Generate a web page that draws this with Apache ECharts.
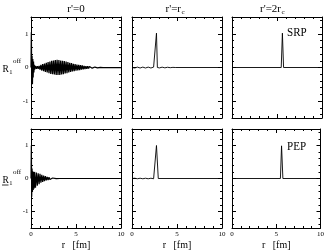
<!DOCTYPE html>
<html><head><meta charset="utf-8">
<script src="https://cdn.jsdelivr.net/npm/echarts@6/dist/echarts.min.js"></script>
<style>html,body{margin:0;padding:0;background:#fff}#c{width:327px;height:251px}</style>
</head><body><div id="c"></div>
<script>
// ---- data ----
const xTickValues = [0, 5, 10];
const yTickValues = [-1, 0, 1];
const yMinorValues = [-1.4, -1.2, -0.8, -0.6, -0.4, -0.2, 0.2, 0.4, 0.6, 0.8, 1.2, 1.4];
const columnTitles = ["r'=0", "r'=r", "r'=2r"];
const columnTitleSubs = ["", "c", "c"];
const rowLabels = ["SRP", "PEP"];
const xName = "r   [fm]";

// SRP, r'=0
const srpR0 = [[0,0],[0.04,1.05],[0.08,-0.45],[0.12,0.35],[0.16,-0.5],[0.2,0.25],[0.24,-0.3],[0.28,0.18],[0.32,-0.15],[0.36,0.08],[0.4,-0.06],
[0.5,0.05],[0.6,-0.04],[0.7,0.04],[0.8,-0.04],[0.9,0.05],[1.0,-0.06],[1.1,0.08],[1.2,-0.09],[1.3,0.1],[1.4,-0.11],
[1.5,0.12],[1.6,-0.13],[1.7,0.14],[1.8,-0.15],[1.9,0.16],[2.0,-0.17],[2.1,0.18],[2.2,-0.19],[2.3,0.2],[2.4,-0.2],
[2.5,0.21],[2.6,-0.21],[2.7,0.22],[2.8,-0.22],[2.9,0.23],[3.0,-0.22],[3.1,0.22],[3.2,-0.22],[3.3,0.21],[3.4,-0.21],
[3.5,0.2],[3.6,-0.2],[3.7,0.19],[3.8,-0.18],[3.9,0.18],[4.0,-0.17],[4.1,0.16],[4.2,-0.15],[4.3,0.14],[4.4,-0.13],
[4.5,0.13],[4.6,-0.12],[4.7,0.11],[4.8,-0.11],[4.9,0.1],[5.0,-0.095],[5.1,0.09],[5.2,-0.085],[5.3,0.08],[5.4,-0.075],
[5.5,0.07],[5.6,-0.065],[5.7,0.06],[5.8,-0.055],[5.9,0.05],[6.0,-0.046],[6.1,0.042],[6.2,-0.038],[6.3,0.035],[6.4,-0.032],
[6.5,0.029],[6.6,-0.026],[6.7,0.023],[6.8,-0.02],[6.9,0.018],[7.0,-0.016],[7.1,0.014],[7.2,-0.012],[7.3,0.01],[7.4,-0.009],
[7.5,0.008],[7.6,-0.007],[7.7,0.006],[7.8,-0.005],[7.9,0.004],[8.0,-0.003],[8.2,0.002],[8.5,0],[10,0]];

// SRP, r'=rc
const srpR1 = [[0,0],[0.2,0.012],[0.3,-0.015],[0.4,0.012],[0.5,-0.015],[0.6,0.012],[0.7,-0.015],[0.8,0.012],[0.9,-0.015],
[1.0,0.012],[1.1,-0.015],[1.2,0.012],[1.3,-0.015],[1.4,0.012],[1.5,-0.015],[1.6,0.012],[1.7,-0.015],[1.8,0.012],[1.9,-0.015],
[2.0,0.012],[2.1,-0.015],[2.2,0.012],[2.3,-0.015],[2.4,0.012],[2.5,-0.015],[2.62,0],[2.72,1.02],[2.82,0],[2.87,-0.05],
[2.95,0.012],[3.05,-0.012],[3.15,0.012],[3.25,-0.012],[3.35,0.01],[3.45,-0.01],[3.55,0.01],[3.65,-0.01],[3.75,0.008],
[3.85,-0.008],[3.95,0.007],[4.05,-0.007],[4.15,0.006],[4.25,-0.006],[4.35,0.005],[4.45,-0.005],[4.55,0.004],[4.65,-0.004],
[4.8,0],[10,0]];

// SRP, r'=2rc
const srpR2 = [[0,0],[5.47,0],[5.6,1.02],[5.73,0],[5.8,-0.03],[5.9,0],[10,0]];

// PEP, r'=0
const pepR0 = [[0,0],[0.04,1.0],[0.08,-0.55],[0.12,0.3],[0.16,-0.4],[0.2,0.22],[0.25,-0.35],[0.3,0.2],[0.35,-0.3],[0.4,0.2],
[0.5,-0.28],[0.6,0.18],[0.7,-0.22],[0.8,0.16],[0.9,-0.17],[1.0,0.14],[1.1,-0.13],[1.2,0.11],[1.3,-0.1],[1.4,0.09],
[1.5,-0.08],[1.6,0.07],[1.7,-0.06],[1.8,0.05],[1.9,-0.045],[2.0,0.04],[2.1,-0.03],[2.2,0.025],[2.3,-0.02],[2.4,0.015],
[2.5,-0.01],[2.6,0.008],[2.8,-0.005],[3.0,0.003],[3.2,0],[10,0]];

// PEP, r'=rc
const pepR1 = [[0,0],[0.1,0.008],[0.2,-0.008],[0.3,0.008],[0.4,-0.008],[0.5,0.008],[0.6,-0.008],[0.7,0.008],[0.8,-0.008],
[0.9,0.008],[1.0,-0.008],[1.1,0.008],[1.2,-0.008],[1.3,0.008],[1.4,-0.008],[1.5,0.008],[1.6,-0.008],[1.7,0.008],
[1.8,-0.008],[1.9,0.008],[2.0,-0.008],[2.1,0.008],[2.2,-0.008],[2.3,0.008],[2.4,-0.008],[2.5,0.008],[2.62,0],
[2.72,1.0],[2.92,0],[3.0,-0.03],[3.1,0],[10,0]];

// PEP, r'=2rc
const pepR2 = [[0,0],[5.47,0],[5.6,0.99],[5.75,0],[5.82,-0.02],[5.92,0],[10,0]];

const panelData = [srpR0, srpR1, srpR2, pepR0, pepR1, pepR2];

// ---- layout ----
const FONT = 'Liberation Serif';
const grids = [
  {left:31, top:17, width:90, height:101},
  {left:132, top:17, width:90, height:101},
  {left:232, top:17, width:90, height:101},
  {left:31, top:129, width:90, height:100},
  {left:132, top:129, width:90, height:100},
  {left:232, top:129, width:90, height:100}
];
const lineWidths = [1.25, 0.9, 0.9, 1.2, 0.9, 0.9];
const BLACK = '#000';

const xAxes = [], yAxes = [], series = [];
grids.forEach((g, i) => {
  const bottomRow = i >= 3, firstCol = i % 3 === 0;
  ['bottom', 'top'].forEach(pos => {
    const lab = bottomRow && pos === 'bottom';
    xAxes.push({
      type:'value', gridIndex:i, position:pos, min:0, max:10, interval:5,
      axisLine:{show:true, onZero:false, lineStyle:{color:BLACK, width:1}},
      axisTick:{show:true, inside:true, length:4, lineStyle:{color:BLACK, width:1}},
      minorTick:{show:true, splitNumber:5, length:2, lineStyle:{color:BLACK, width:1}},
      axisLabel:{show:lab, customValues:xTickValues, fontSize:7, fontFamily:FONT, color:BLACK, margin:3},
      name: lab ? xName : '', nameLocation:'middle', nameGap:12,
      nameTextStyle:{fontFamily:FONT, fontSize:10, color:BLACK},
      splitLine:{show:false}, minorSplitLine:{show:false}
    });
  });
  ['left', 'right'].forEach(pos => {
    [true, false].forEach(major => {
      const lab = major && firstCol && pos === 'left';
      yAxes.push({
        type:'value', gridIndex:i, position:pos, min:-1.5, max:1.5,
        axisLine:{show:major, onZero:false, lineStyle:{color:BLACK, width:1}},
        axisTick:{show:true, inside:true, length:major ? 4 : 2, customValues: major ? yTickValues : yMinorValues,
          lineStyle:{color:BLACK, width:1}},
        axisLabel:{show:lab, customValues:yTickValues, fontSize:7, fontFamily:FONT, color:BLACK, margin:2.5},
        splitLine:{show:false}
      });
    });
  });
  series.push({
    type:'line', xAxisIndex:2*i, yAxisIndex:4*i, data:panelData[i],
    showSymbol:false, symbol:'none', sampling:null, lineStyle:{color:BLACK, width:lineWidths[i]}, silent:true, z:5
  });
});

const graphics = [];
const titleX = [76, 177, 277];
columnTitles.forEach((t, c) => {
  if (!columnTitleSubs[c]) {
    graphics.push({type:'text', x:titleX[c], y:9.5, style:{text:t, font:'11px "'+FONT+'"', fill:BLACK, textAlign:'center', textVerticalAlign:'middle'}});
  } else {
    const endX = titleX[c] + 4;
    graphics.push({type:'text', x:endX, y:9.5, style:{text:t, font:'11px "'+FONT+'"', fill:BLACK, textAlign:'right', textVerticalAlign:'middle'}});
    graphics.push({type:'text', x:endX + 0.5, y:12.5, style:{text:columnTitleSubs[c], font:'7px "'+FONT+'"', fill:BLACK, textAlign:'left', textVerticalAlign:'middle'}});
  }
});
const rowY = [69.5, 180.5];
const rowTextY = [33, 146.5];
rowLabels.forEach((t, r) => {
  graphics.push({type:'text', x:287, y:rowTextY[r], scaleX:0.85, style:{text:t, font:'13px "'+FONT+'"', fill:BLACK, textAlign:'left', textVerticalAlign:'middle'}});
  graphics.push({type:'text', x:2.5, y:rowY[r], style:{text:'R', font:'9.5px "'+FONT+'"', fill:BLACK, textAlign:'left', textVerticalAlign:'middle'}});
  graphics.push({type:'text', x:9.2, y:rowY[r] + 3, style:{text:'1', font:'6.5px "'+FONT+'"', fill:BLACK, textAlign:'left', textVerticalAlign:'middle'}});
  graphics.push({type:'text', x:13, y:rowY[r] - 8, style:{text:'off', font:'7px "'+FONT+'"', fill:BLACK, textAlign:'left', textVerticalAlign:'middle'}});
});
graphics.push({type:'line', shape:{x1:2, y1:rowY[1] + 4.5, x2:8.5, y2:rowY[1] + 4.5}, style:{stroke:BLACK, lineWidth:0.8}});

const chart = echarts.init(document.getElementById('c'), null, {renderer:'canvas'});
chart.setOption({
  animation:false,
  backgroundColor:'#fff',
  grid: grids,
  xAxis: xAxes,
  yAxis: yAxes,
  series: series,
  graphic: graphics
});
</script></body></html>
